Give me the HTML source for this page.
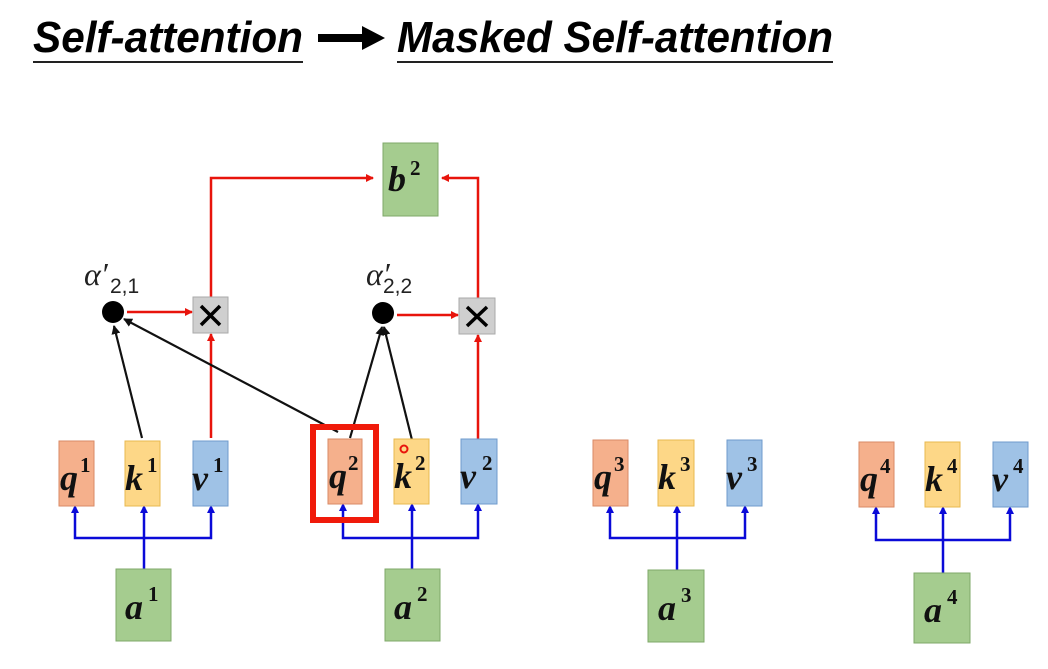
<!DOCTYPE html>
<html><head><meta charset="utf-8"><style>
html,body{margin:0;padding:0;background:#fff;}
svg{display:block;}
.t{font-family:"Liberation Serif",serif;font-weight:bold;font-style:italic;font-size:36px;fill:#111;}
.s{font-family:"Liberation Serif",serif;font-weight:bold;font-size:21px;fill:#111;}
</style></head><body>
<svg width="1048" height="669" viewBox="0 0 1048 669" xmlns="http://www.w3.org/2000/svg">
<defs>
<marker id="ar" markerWidth="8" markerHeight="8" refX="7" refY="4" orient="auto" markerUnits="userSpaceOnUse"><path d="M0,0 L8,4 L0,8 z" fill="#e8140c"/></marker>
<marker id="ak" markerWidth="9" markerHeight="9" refX="8" refY="4.5" orient="auto" markerUnits="userSpaceOnUse"><path d="M0,0 L9,4.5 L0,9 z" fill="#111"/></marker>
</defs>
<!-- title -->
<text x="33" y="52" font-family="Liberation Sans,sans-serif" font-weight="bold" font-style="italic" font-size="44" textLength="270" lengthAdjust="spacingAndGlyphs">Self-attention</text>
<line x1="33" y1="62" x2="303" y2="62" stroke="#222" stroke-width="2"/>
<path d="M318,34 H362 V26 L385,38 L362,50 V42 H318 z" fill="#000"/>
<text x="397" y="52" font-family="Liberation Sans,sans-serif" font-weight="bold" font-style="italic" font-size="44" textLength="436" lengthAdjust="spacingAndGlyphs">Masked Self-attention</text>
<line x1="397" y1="62" x2="833" y2="62" stroke="#222" stroke-width="2"/>

<!-- red lines -->
<g stroke="#e8140c" stroke-width="2.5" fill="none">
<polyline points="211,297 211,178 373,178" marker-end="url(#ar)"/>
<polyline points="478,298 478,178 442,178" marker-end="url(#ar)"/>
<line x1="127" y1="312" x2="192" y2="312" marker-end="url(#ar)"/>
<line x1="397" y1="315" x2="458" y2="315" marker-end="url(#ar)"/>
<line x1="211" y1="438" x2="211" y2="334" marker-end="url(#ar)"/>
<line x1="478" y1="439" x2="478" y2="335" marker-end="url(#ar)"/>
</g>
<!-- black lines -->
<g stroke="#111" stroke-width="2.2" fill="none">
<line x1="142" y1="438" x2="114" y2="326" marker-end="url(#ak)"/>
<line x1="338" y1="432" x2="124" y2="319" marker-end="url(#ak)"/>
<line x1="350" y1="438" x2="382" y2="327" marker-end="url(#ak)"/>
<line x1="412" y1="440" x2="384" y2="327" marker-end="url(#ak)"/>
</g>
<circle cx="113" cy="312" r="11" fill="#000"/>
<circle cx="383" cy="313" r="11" fill="#000"/>
<text x="84" y="285" font-family="Liberation Serif,serif" font-style="italic" font-size="32" fill="#222">α′</text>
<text x="110" y="293" font-family="Liberation Sans,sans-serif" font-size="21" fill="#222">2,1</text>
<text x="366" y="285" font-family="Liberation Serif,serif" font-style="italic" font-size="32" fill="#222">α′</text>
<text x="383" y="293" font-family="Liberation Sans,sans-serif" font-size="21" fill="#222">2,2</text>
<!-- x boxes -->
<g>
<rect x="193" y="297" width="35" height="36" fill="#cfcfcf" stroke="#aaa"/>
<path d="M201,306 L220,325 M220,306 L201,325" stroke="#000" stroke-width="3.5"/>
<rect x="459" y="298" width="36" height="36" fill="#cfcfcf" stroke="#aaa"/>
<path d="M467,307 L487,326 M487,307 L467,326" stroke="#000" stroke-width="3.5"/>
</g>
<!-- b2 -->
<rect x="383" y="143" width="55" height="73" fill="#a5cc8f" stroke="#7fa86a"/>
<text x="388" y="191" class="t">b</text><text x="410" y="175" class="s">2</text>

<!-- blue buses -->
<g stroke="#0a0ad8" stroke-width="2.5" fill="none">
<polyline points="75,507 75,538 211,538 211,507"/><line x1="144" y1="569" x2="144" y2="507"/>
<polyline points="343,505 343,538 478,538 478,505"/><line x1="412" y1="569" x2="412" y2="505"/>
<polyline points="610,507 610,538 745,538 745,507"/><line x1="677" y1="570" x2="677" y2="507"/>
<polyline points="876,508 876,540 1010,540 1010,508"/><line x1="943" y1="573" x2="943" y2="508"/>
</g>
<g fill="#0a0ad8">
<path d="M75,505 l-4,8 h8z M144,505 l-4,8 h8z M211,505 l-4,8 h8z"/>
<path d="M343,503 l-4,8 h8z M412,503 l-4,8 h8z M478,503 l-4,8 h8z"/>
<path d="M610,505 l-4,8 h8z M677,505 l-4,8 h8z M745,505 l-4,8 h8z"/>
<path d="M876,506 l-4,8 h8z M943,506 l-4,8 h8z M1010,506 l-4,8 h8z"/>
</g>

<!-- qkv boxes -->
<g stroke-width="1">
<rect x="59" y="441" width="35" height="65" fill="#f5b08c" stroke="#d98a66"/>
<rect x="125" y="441" width="35" height="65" fill="#fdd787" stroke="#e8b94f"/>
<rect x="193" y="441" width="35" height="65" fill="#9fc2e6" stroke="#6f9bcc"/>
<rect x="328" y="439" width="34" height="65" fill="#f5b08c" stroke="#d98a66"/>
<rect x="394" y="439" width="35" height="65" fill="#fdd787" stroke="#e8b94f"/>
<rect x="461" y="439" width="36" height="65" fill="#9fc2e6" stroke="#6f9bcc"/>
<rect x="593" y="440" width="35" height="66" fill="#f5b08c" stroke="#d98a66"/>
<rect x="658" y="440" width="36" height="66" fill="#fdd787" stroke="#e8b94f"/>
<rect x="727" y="440" width="35" height="66" fill="#9fc2e6" stroke="#6f9bcc"/>
<rect x="859" y="442" width="35" height="65" fill="#f5b08c" stroke="#d98a66"/>
<rect x="925" y="442" width="35" height="65" fill="#fdd787" stroke="#e8b94f"/>
<rect x="993" y="442" width="35" height="65" fill="#9fc2e6" stroke="#6f9bcc"/>
</g>
<rect x="313" y="427" width="63" height="93" fill="none" stroke="#f01a0a" stroke-width="6"/>
<circle cx="404" cy="449" r="3.5" fill="none" stroke="#e8140c" stroke-width="2"/>
<g>
<text x="60" y="490" class="t">q</text><text x="80" y="472" class="s">1</text>
<text x="125" y="490" class="t">k</text><text x="147" y="472" class="s">1</text>
<text x="192" y="490" class="t">v</text><text x="213" y="472" class="s">1</text>
<text x="329" y="488" class="t">q</text><text x="348" y="470" class="s">2</text>
<text x="394" y="488" class="t">k</text><text x="415" y="470" class="s">2</text>
<text x="460" y="488" class="t">v</text><text x="482" y="470" class="s">2</text>
<text x="594" y="489" class="t">q</text><text x="614" y="471" class="s">3</text>
<text x="658" y="489" class="t">k</text><text x="680" y="471" class="s">3</text>
<text x="726" y="489" class="t">v</text><text x="747" y="471" class="s">3</text>
<text x="860" y="491" class="t">q</text><text x="880" y="473" class="s">4</text>
<text x="925" y="491" class="t">k</text><text x="947" y="473" class="s">4</text>
<text x="992" y="491" class="t">v</text><text x="1013" y="473" class="s">4</text>
</g>
<!-- a boxes -->
<rect x="116" y="569" width="55" height="72" fill="#a5cc8f" stroke="#7fa86a"/>
<rect x="385" y="569" width="55" height="72" fill="#a5cc8f" stroke="#7fa86a"/>
<rect x="648" y="570" width="56" height="72" fill="#a5cc8f" stroke="#7fa86a"/>
<rect x="914" y="573" width="56" height="70" fill="#a5cc8f" stroke="#7fa86a"/>
<text x="125" y="619" class="t">a</text><text x="148" y="601" class="s">1</text>
<text x="394" y="619" class="t">a</text><text x="417" y="601" class="s">2</text>
<text x="658" y="620" class="t">a</text><text x="681" y="602" class="s">3</text>
<text x="924" y="622" class="t">a</text><text x="947" y="604" class="s">4</text>
</svg>
</body></html>
